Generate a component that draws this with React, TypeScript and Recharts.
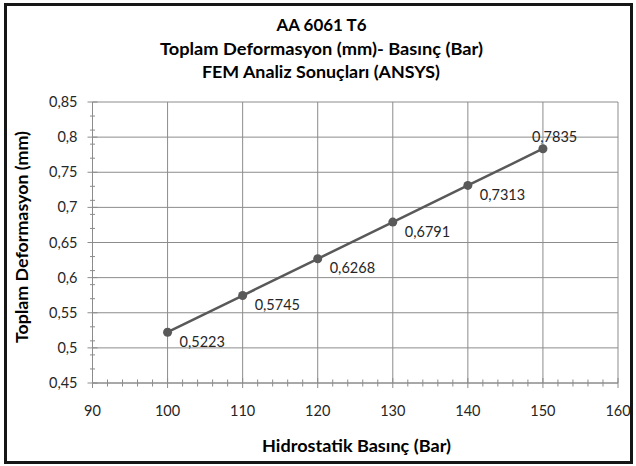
import React from 'react';
import { LineChart, Line, XAxis, YAxis, CartesianGrid, LabelList } from 'recharts';

// Hydrostatic pressure (Bar) and total deformation (mm) from FEM analysis
const pressures = [100, 110, 120, 130, 140, 150];
const deformations = [0.5223, 0.5745, 0.6268, 0.6791, 0.7313, 0.7835];

const xMajorTicks = [90, 100, 110, 120, 130, 140, 150, 160];
const xMinorTicks = [92, 94, 96, 98, 102, 104, 106, 108, 112, 114, 116, 118, 122, 124, 126, 128, 132, 134, 136, 138, 142, 144, 146, 148, 152, 154, 156, 158];
const yMajorTicks = [0.45, 0.5, 0.55, 0.6, 0.65, 0.7, 0.75, 0.8, 0.85];
const yMinorTicks = [0.47, 0.49, 0.51, 0.53, 0.57, 0.59, 0.61, 0.63, 0.67, 0.69, 0.71, 0.73, 0.77, 0.79, 0.81, 0.83];

const titleLines = ['AA 6061 T6', 'Toplam Deformasyon (mm)- Basınç (Bar)', 'FEM Analiz Sonuçları (ANSYS)'];
const xTitle = 'Hidrostatik Basınç (Bar)';
const yTitle = 'Toplam Deformasyon (mm)';

const data = pressures.map((p, i) => ({ x: p, y: deformations[i] }));

const FONT = 'Lato, "Open Sans", sans-serif';
const GRID = '#8c8c8c';
const SERIES = '#595959';
const TEXT = '#262626';

const fmt = (v: number) => String(v).replace('.', ',');
const isMajor = (v: number, list: number[]) => list.some((m) => Math.abs(m - v) < 1e-6);

const XTick = (props: any) => {
  const { x, y, payload } = props;
  const major = isMajor(payload.value, xMajorTicks);
  const h = major ? 5 : 3.5;
  return (
    <g>
      <line x1={x} x2={x} y1={y - h} y2={y + h} stroke={GRID} strokeWidth={1} />
      {major && (
        <text x={x} y={y + 33} textAnchor="middle" fontFamily={FONT} fontSize={14.5} fill={TEXT}>
          {payload.value}
        </text>
      )}
    </g>
  );
};

const YTick = (props: any) => {
  const { x, y, payload } = props;
  const major = isMajor(payload.value, yMajorTicks);
  const w = major ? 5 : 2.5;
  return (
    <g>
      <line x1={x - w} x2={x + w} y1={y} y2={y} stroke={GRID} strokeWidth={1} />
      {major && (
        <text x={x - 15} y={y + 5} textAnchor="end" fontFamily={FONT} fontSize={14.5} fill={TEXT}>
          {fmt(payload.value)}
        </text>
      )}
    </g>
  );
};

const PointLabel = (props: any) => {
  const { x, y, value, index } = props;
  const last = index === deformations.length - 1;
  const dx = last ? -11 : 12;
  const dy = last ? -6.5 : 14.5;
  return (
    <text x={x + dx} y={y + dy} fontFamily={FONT} fontSize={14.5} fill={TEXT}>
      {fmt(value)}
    </text>
  );
};

export default function App() {
  return (
    <div style={{ position: 'absolute', left: 0, top: 0, width: 636, height: 466, background: '#fff' }}>
      <LineChart width={636} height={466} data={data} margin={{ top: 102, right: 18, bottom: 0, left: 0 }}>
        <CartesianGrid stroke={GRID} strokeWidth={1} horizontalValues={yMajorTicks} verticalValues={xMajorTicks} />
        <XAxis
          type="number"
          dataKey="x"
          domain={[90, 160]}
          ticks={[...xMajorTicks, ...xMinorTicks].sort((a, b) => a - b)}
          interval={0}
          height={83}
          tickSize={0}
          tickMargin={0}
          tickLine={false}
          axisLine={{ stroke: GRID, strokeWidth: 1 }}
          tick={<XTick />}
        />
        <YAxis
          type="number"
          domain={[0.45, 0.85]}
          ticks={[...yMajorTicks, ...yMinorTicks].sort((a, b) => a - b)}
          interval={0}
          width={92.5}
          tickSize={0}
          tickMargin={0}
          tickLine={false}
          axisLine={{ stroke: GRID, strokeWidth: 1 }}
          tick={<YTick />}
        />
        <Line
          type="linear"
          dataKey="y"
          stroke={SERIES}
          strokeWidth={2.5}
          dot={{ r: 4.5, fill: SERIES, stroke: SERIES, strokeWidth: 0 }}
          activeDot={false}
          isAnimationActive={false}
        >
          <LabelList dataKey="y" content={<PointLabel />} />
        </Line>
      </LineChart>
      <svg width={636} height={466} style={{ position: 'absolute', left: 0, top: 0, pointerEvents: 'none' }}>
        <text x={321.5} y={31} textAnchor="middle" fontFamily={FONT} fontWeight="bold" fontSize={17} fill="#000" textLength={90} lengthAdjust="spacingAndGlyphs">
          {titleLines[0]}
        </text>
        <text x={321.5} y={55} textAnchor="middle" fontFamily={FONT} fontWeight="bold" fontSize={17} fill="#000" textLength={323} lengthAdjust="spacingAndGlyphs">
          {titleLines[1]}
        </text>
        <text x={321} y={77.5} textAnchor="middle" fontFamily={FONT} fontWeight="bold" fontSize={17} fill="#000" textLength={238} lengthAdjust="spacingAndGlyphs">
          {titleLines[2]}
        </text>
        <text x={356.5} y={452} textAnchor="middle" fontFamily={FONT} fontWeight="bold" fontSize={17} fill="#000" textLength={189} lengthAdjust="spacingAndGlyphs">
          {xTitle}
        </text>
        <text
          x={27.5}
          y={237}
          transform="rotate(-90, 27.5, 237)"
          textAnchor="middle"
          fontFamily={FONT}
          fontWeight="bold"
          fontSize={17}
          fill="#000"
          textLength={212}
          lengthAdjust="spacingAndGlyphs"
        >
          {yTitle}
        </text>
      </svg>
      <div
        style={{
          position: 'absolute',
          left: 4,
          top: 3,
          width: 629,
          height: 461,
          border: '3px solid #161616',
          boxSizing: 'border-box',
          pointerEvents: 'none',
        }}
      />
    </div>
  );
}
